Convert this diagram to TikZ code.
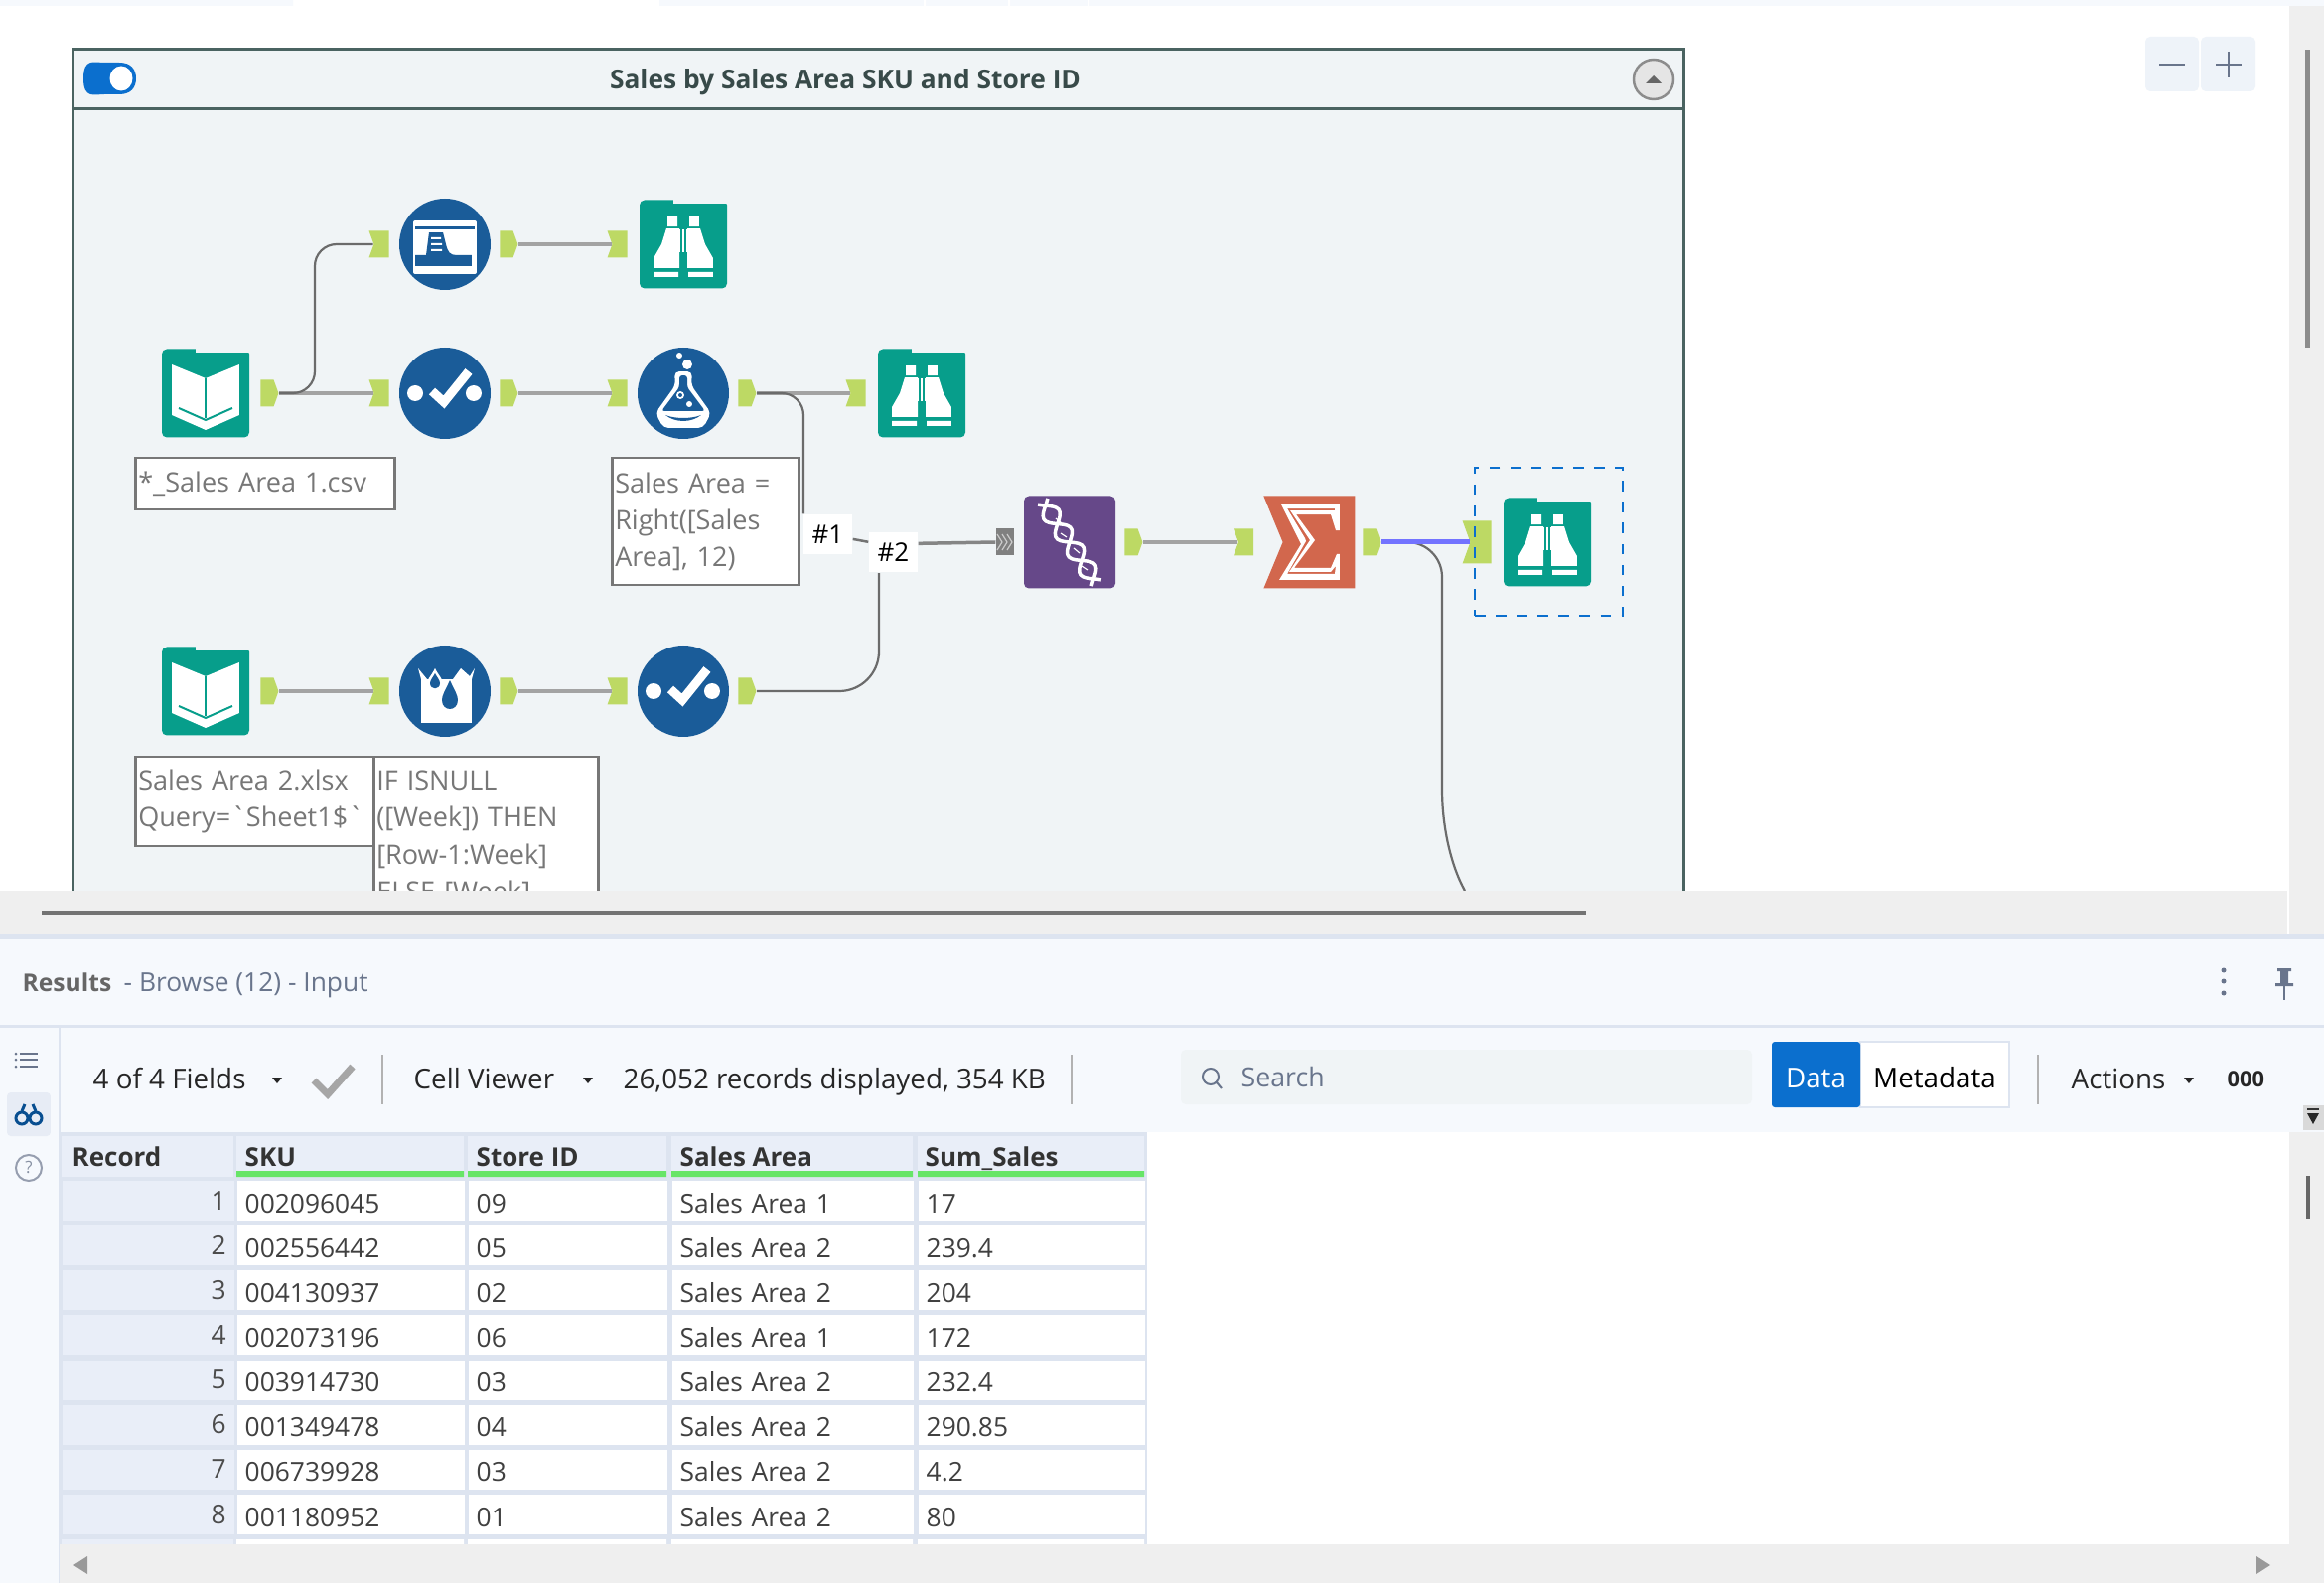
\documentclass[tikz,border=0pt]{standalone}
\usepackage{fontspec}
\setmainfont[Ligatures=TeXOff]{Open Sans}
\usepackage{tikz}
\usetikzlibrary{shapes.geometric, shapes.symbols, arrows.meta, calc}
\definecolor{canvas}{HTML}{F0F4F6}
\definecolor{frameline}{HTML}{4A6361}
\definecolor{toolblue}{HTML}{1A5C99}
\definecolor{toolteal}{HTML}{079E8B}
\definecolor{toolpurple}{HTML}{664889}
\definecolor{toolorange}{HTML}{D2674D}
\definecolor{portgreen}{HTML}{BDD964}
\definecolor{panelbg}{HTML}{F6F9FD}
\definecolor{gridline}{HTML}{DDE4F0}
\definecolor{headcell}{HTML}{E9EEF8}
\definecolor{bandgray}{HTML}{EFEFEF}
\definecolor{notegray}{HTML}{777777}
\definecolor{railblue}{HTML}{69758C}
\definecolor{databtn}{HTML}{0B6FCE}
\tikzstyle{bluetool} = [circle, fill=toolblue, minimum size=0.92cm, inner sep=0pt]
\tikzstyle{tealtool} = [rectangle, rounded corners=0.05cm, fill=toolteal, minimum width=0.88cm, minimum height=0.89cm, inner sep=0pt]
\tikzstyle{outport} = [signal, signal to=east, signal from=nowhere, signal pointer angle=140, fill=portgreen, minimum width=0.18cm, minimum height=0.27cm, inner sep=0pt]
\tikzstyle{inport} = [signal, signal from=west, signal to=nowhere, signal pointer angle=140, fill=portgreen, minimum width=0.20cm, minimum height=0.27cm, inner sep=0pt]
\tikzstyle{note} = [rectangle, draw=notegray, line width=0.025cm, fill=white, text=notegray, anchor=north west, align=left, inner xsep=0.03cm, inner ysep=0pt, font=\fontsize{7.7}{10.6}\selectfont]
\tikzstyle{wirelabel} = [rectangle, fill=white, text=black, minimum width=0.49cm, minimum height=0.40cm, inner sep=0pt, font=\fontsize{7.4}{9}\selectfont]
\tikzstyle{wire} = [draw=black!36, line width=0.04cm]
\tikzstyle{bendwire} = [draw=black!58, line width=0.022cm, rounded corners=0.22cm]
\tikzstyle{cell} = [rectangle, fill=white, text=black!75, anchor=west, align=left, minimum height=0.40cm, inner xsep=0.08cm, inner ysep=0pt, text height=0.26cm, text depth=0.02cm, font=\fontsize{7.5}{8}\selectfont]
\tikzstyle{reccell} = [cell, fill=headcell, align=right, text=black!70, text height=0.23cm, text depth=0.05cm]
\tikzstyle{headtext} = [anchor=base west, inner sep=0pt, text=black!80, font=\fontsize{7.4}{8}\selectfont\bfseries]
\tikzstyle{bartext} = [anchor=base west, inner sep=0pt, text=black!85, font=\fontsize{7.9}{8}\selectfont]
\tikzstyle{btntext} = [rectangle, minimum height=0.66cm, inner sep=0pt, text height=0.26cm, text depth=0cm, font=\fontsize{7.9}{8}\selectfont]
\newcommand{\foldertop}{\fill[canvas] (-10,-45.5) rectangle (45,-41);}
\newcommand{\bookicon}[1]{\begin{scope}[shift={(#1)}, x=0.01cm, y=-0.01cm]
\foldertop
\fill[white] (-34,-29) -- (0,-15) -- (34,-29) -- (34,22) -- (0,37) -- (-34,22) -- cycle;
\draw[toolteal, line width=0.015cm] (0,-15) -- (0,25);
\draw[toolteal, line width=0.02cm] (-27,15) -- (0,27) -- (27,15);
\end{scope}}
\newcommand{\browseicon}[1]{\begin{scope}[shift={(#1)}, x=0.01cm, y=-0.01cm]
\foldertop
\fill[white] (-16,-28) rectangle (-6,-18) (6,-28) rectangle (16,-18);
\fill[white] (-17,-16) -- (-4,-16) -- (-4,24) -- (-30,24) -- (-30,14) -- (-22,0) -- cycle;
\fill[white] (17,-16) -- (4,-16) -- (4,24) -- (30,24) -- (30,14) -- (22,0) -- cycle;
\fill[white] (-4,-15) rectangle (4,8);
\draw[toolteal, line width=0.012cm] (-2,-15) -- (-2,8) (2,-15) -- (2,8);
\fill[white] (-30,28) rectangle (-5,33) (5,28) rectangle (30,33);
\end{scope}}
\newcommand{\selecticon}[1]{\begin{scope}[shift={(#1)}, x=0.01cm, y=-0.01cm]
\fill[white] (-30,0) circle (8) (29,0) circle (8);
\draw[white, line width=0.09cm] (-13,-2) -- (-1,9) -- (24,-22);
\end{scope}}
\newcommand{\fieldicon}[1]{\begin{scope}[shift={(#1)}, x=0.01cm, y=-0.01cm]
\fill[white, rounded corners=0.02cm] (-32,-24) rectangle (32,30);
\fill[toolblue] (-30,-18) rectangle (30,-15);
\fill[toolblue] (-30,11) -- (-19,11) -- (-16,-12) -- (-2,-12) -- (1,0) .. controls (3,8) and (5,11) .. (12,11) -- (27,11) -- (27,22) -- (-30,22) -- cycle;
\fill[white] (-14,-7) rectangle (-4,-5) (-14,-1) rectangle (-3,1) (-14,5) rectangle (-3,7);
\end{scope}}
\newcommand{\flaskicon}[1]{\begin{scope}[shift={(#1)}, x=0.01cm, y=-0.01cm]
\fill[white] (-4,-38) circle (3) (4,-29) circle (5);
\fill[white, rounded corners=0.05cm] (-9,-22) -- (9,-22) -- (8,-8) -- (28,20) -- (20,35) -- (-20,35) -- (-28,20) -- (-8,-8) -- cycle;
\fill[toolblue, rounded corners=0.03cm] (-4,-18) -- (4,-18) -- (4,-6) -- (22,18) -- (-22,18) -- (-4,-6) -- cycle;
\fill[white] (-3,2) circle (4) (6,11) circle (3);
\fill[toolblue] (-3,2) circle (2);
\fill[toolblue] (-18,22) .. controls (-8,30) and (8,30) .. (18,22) .. controls (8,26) and (-8,26) .. cycle;
\end{scope}}
\newcommand{\fillicon}[1]{\begin{scope}[shift={(#1)}, x=0.01cm, y=-0.01cm]
\fill[white] (-27,-23) -- (-24,-12) -- (-24,32) -- (27,32) -- (27,-12) -- (30,-23) -- (25,-15) -- (16,-23) -- (8,-12) -- (-18,-12) -- cycle;
\fill[toolblue] (5,-11) .. controls (0,0) and (-3,4) .. (-3,9) .. controls (-3,21) and (13,21) .. (13,9) .. controls (13,4) and (10,0) .. cycle;
\fill[white] (-10,-23) .. controls (-14,-15) and (-18,-12) .. (-18,-8) .. controls (-18,2) and (-2,2) .. (-2,-8) .. controls (-2,-12) and (-6,-15) .. cycle;
\fill[toolblue] (-10,-18) .. controls (-12,-14) and (-15,-11) .. (-15,-8) .. controls (-15,-1) and (-5,-1) .. (-5,-8) .. controls (-5,-11) and (-8,-14) .. cycle;
\end{scope}}
\newcommand{\helixicon}[1]{\begin{scope}[shift={(#1)}, x=0.01cm, y=-0.01cm]
\draw[white, line width=0.035cm, smooth, domain=-1:1, samples=33] plot ({\x*27+9*sin(\x*400)*0.84}, {\x*41-9*sin(\x*400)*0.54});
\draw[white, line width=0.035cm, smooth, domain=-1:1, samples=33] plot ({\x*27-9*sin(\x*400)*0.84}, {\x*41+9*sin(\x*400)*0.54});
\draw[white, line width=0.012cm] (-14,-24) -- (-8,-19) (-9,-9) -- (-3,-5) (4,6) -- (10,11) (12,24) -- (18,28);
\end{scope}}
\newcommand{\sigmaicon}[1]{\begin{scope}[shift={(#1)}, x=0.01cm, y=-0.01cm]
\fill[white, even odd rule] (-28,-38) -- (31,-38) -- (31,-12) -- (27,-12) -- (22,-28) -- (-13,-28) -- (6,-2) -- (-15,26) -- (22,26) -- (28,12) -- (31,12) -- (31,38) -- (-30,38) -- (-8,2) -- cycle
 (-22,-34) -- (-4,-4) -- (-3,-1) -- (-22,32) -- (26,32) -- (27,24) -- (22,30) -- (-20,30) -- (1,-2) -- (-19,-32) -- (26,-32) -- (27,-24) -- (26,-34) -- cycle;
\end{scope}}
\begin{document}
\begin{tikzpicture}[node distance=2.4cm]
\useasboundingbox (0,0) rectangle (23.4,-15.94);
\fill[white] (0,0) rectangle (23.4,-15.94);
\fill[panelbg] (0,0) rectangle (2.95,-0.06) (6.64,0) rectangle (23.4,-0.06);
\fill[white] (9.3,0) rectangle (9.32,-0.06) (10.15,0) rectangle (10.17,-0.06) (10.95,0) rectangle (10.97,-0.06);
\fill[bandgray] (23.05,-0.06) rectangle (23.4,-9.4);
\fill[black!45] (23.21,-0.5) rectangle (23.26,-3.5);

\node (zoomout) [rectangle, rounded corners=0.05cm, fill=panelbg!70!gridline, minimum width=0.54cm, minimum height=0.55cm] at (21.87,-0.645) {};
\node (zoomin) [rectangle, rounded corners=0.05cm, fill=panelbg!70!gridline, minimum width=0.55cm, minimum height=0.55cm] at (22.435,-0.645) {};
\draw[railblue, line width=0.025cm] (21.74,-0.65) -- (22.0,-0.65) (22.31,-0.65) -- (22.57,-0.65) (22.44,-0.52) -- (22.44,-0.78);

\fill[canvas, draw=frameline, line width=0.03cm] (0.73,-0.5) rectangle (16.95,-9.3);
\draw[frameline, line width=0.03cm] (0.73,-1.1) -- (16.95,-1.1);
\node (title) [font=\fontsize{7.5}{9}\selectfont\bfseries, text=frameline!75!black] at (8.51,-0.83) {Sales by Sales Area SKU and Store ID};
\fill[databtn] (0.84,-0.79) .. controls (0.84,-0.58) and (0.95,-0.63) .. (1.05,-0.63) -- (1.2,-0.63) .. controls (1.32,-0.63) and (1.37,-0.7) .. (1.37,-0.79) .. controls (1.37,-0.88) and (1.32,-0.95) .. (1.2,-0.95) -- (1.05,-0.95) .. controls (0.95,-0.95) and (0.84,-1) .. (0.84,-0.79) -- cycle;
\fill[white] (1.22,-0.79) ellipse (0.115 and 0.125);
\node (collapse) [circle, draw=black!45, fill=black!10, line width=0.025cm, minimum size=0.40cm] at (16.65,-0.80) {};
\fill[black!60] (16.57,-0.84) -- (16.65,-0.76) -- (16.73,-0.84) -- cycle;

\node (bk1) [tealtool] at (2.07,-3.96) {};
\node (sel1) [bluetool, right of=bk1, xshift=0.01cm] {};
\node (fld) [bluetool, above of=sel1, yshift=-0.9cm] {};
\node (brw1) [tealtool, right of=fld] {};
\node (frm) [bluetool, right of=sel1] {};
\node (brw2) [tealtool, right of=frm] {};
\node (bk2) [tealtool, below of=bk1, yshift=-0.6cm] {};
\node (fil) [bluetool, right of=bk2, xshift=0.01cm] {};
\node (sel2) [bluetool, right of=fil] {};
\node (dna) [rectangle, rounded corners=0.05cm, fill=toolpurple, minimum width=0.92cm, minimum height=0.93cm, right of=brw2, xshift=-0.91cm, yshift=-1.5cm] {};
\node (sum) [signal, signal from=west, signal to=nowhere, signal pointer angle=135, fill=toolorange, minimum width=0.92cm, minimum height=0.93cm, inner sep=0pt, right of=dna, xshift=0.11cm] {};
\node (brw3) [tealtool, right of=sum, xshift=-0.10cm] {};

\node (bk1out) [outport, right of=bk1, xshift=-1.78cm] {};
\node (bk2out) [outport, right of=bk2, xshift=-1.78cm] {};
\node (fldin) [inport, left of=fld, xshift=1.76cm] {};
\node (fldout) [outport, right of=fld, xshift=-1.78cm] {};
\node (brw1in) [inport, left of=brw1, xshift=1.76cm] {};
\node (sel1in) [inport, left of=sel1, xshift=1.76cm] {};
\node (sel1out) [outport, right of=sel1, xshift=-1.78cm] {};
\node (frmin) [inport, left of=frm, xshift=1.76cm] {};
\node (frmout) [outport, right of=frm, xshift=-1.78cm] {};
\node (brw2in) [inport, left of=brw2, xshift=1.76cm] {};
\node (filin) [inport, left of=fil, xshift=1.76cm] {};
\node (filout) [outport, right of=fil, xshift=-1.78cm] {};
\node (sel2in) [inport, left of=sel2, xshift=1.76cm] {};
\node (sel2out) [outport, right of=sel2, xshift=-1.78cm] {};
\node (dnain) [rectangle, fill=black!50, minimum width=0.18cm, minimum height=0.27cm, inner sep=0pt, left of=dna, xshift=1.75cm] {};
\node (dnaout) [outport, right of=dna, xshift=-1.78cm] {};
\node (sumin) [inport, left of=sum, xshift=1.665cm] {};
\node (sumout) [outport, right of=sum, xshift=-1.89cm] {};
\node (brw3in) [inport, minimum width=0.29cm, minimum height=0.43cm, left of=brw3, xshift=1.73cm] {};
\node (pick) [rectangle, draw=databtn, dashed, line width=0.02cm, minimum width=1.49cm, minimum height=1.49cm, left of=brw3, xshift=2.4cm+0.015cm, yshift=0.005cm] {};

\bookicon{bk1}
\bookicon{bk2}
\browseicon{brw1}
\browseicon{brw2}
\browseicon{brw3}
\selecticon{sel1}
\selecticon{sel2}
\fieldicon{fld}
\flaskicon{frm}
\fillicon{fil}
\helixicon{dna}
\sigmaicon{$(sum)+(-0.1,0)$}
\foreach \p in {-0.05,0,0.05} \draw[white!80!black, line width=0.012cm] ($(dnain.center)+(\p-0.03,0.08)$) -- ($(dnain.center)+(\p+0.02,0)$) -- ($(dnain.center)+(\p-0.03,-0.08)$);

\node (nbk1) [note, minimum width=2.61cm, minimum height=0.52cm, text width=2.55cm] at (1.35,-4.60) {*\_Sales Area 1.csv};
\node (nfrm) [note, minimum width=1.88cm, minimum height=1.28cm, text width=1.82cm] at (6.15,-4.60) {Sales Area =\\Right([Sales\\Area], 12)};
\node (nbk2) [note, minimum width=2.40cm, minimum height=0.90cm, text width=2.34cm] at (1.35,-7.61) {Sales Area 2.xlsx\\Query=`Sheet1\$`};
\node (nfil) [note, minimum width=2.26cm, minimum height=1.63cm, text width=2.20cm] at (3.75,-7.61) {IF ISNULL\\([Week]) THEN\\{[Row-1:Week]}\\ELSE [Week]};

\node (lab1) [wirelabel] at (8.335,-5.38) {\#1};
\node (lab2) [wirelabel] at (8.995,-5.565) {\#2};
\coordinate (bendA) at (3.17,-3.0);
\coordinate (bendB) at (8.09,-4.6);
\coordinate (bendC) at (8.85,-6.2);
\coordinate (bendD) at (14.52,-7.6);
\coordinate (lowend) at (14.75,-8.97);

\draw[wire] (bk1out.east) -- (sel1in.west);
\draw[wire] (sel1out.east) -- (frmin.west);
\draw[wire] (fldout.east) -- (brw1in.west);
\draw[wire] (frmout.east) -- (brw2in.west);
\draw[wire] (bk2out.east) -- (filin.west);
\draw[wire] (filout.east) -- (sel2in.west);
\draw[wire] (dnaout.east) -- (sumin.west);
\draw[bendwire] (bk1out.east) -| (bendA) |- (fldin.west);
\draw[bendwire] (frmout.east) -| (bendB) -- (lab1.north -| bendB);
\draw[bendwire, rounded corners=0.4cm] (sel2out.east) -| (bendC) -- (lab2.south -| bendC);
\draw[wire, line width=0.025cm, draw=black!55] (lab1.-11) -- (lab2.157);
\draw[wire, draw=black!48, line width=0.035cm] (lab2.20) -- (dnain.west);
\draw[draw=black!58, line width=0.022cm, rounded corners=0.35cm] (sumout.east) -| (bendD) .. controls (14.52,-8.3) and (14.6,-8.7) .. (lowend);
\draw[draw=blue!55!white, line width=0.05cm] (sumout.east) -- (brw3in.west);

\fill[bandgray] (0,-8.97) rectangle (23.03,-9.40);
\draw[black!55, line width=0.04cm] (0.42,-9.19) -- (15.97,-9.19);

\fill[panelbg] (0,-9.40) rectangle (23.4,-15.94);
\fill[gridline] (0,-9.40) rectangle (23.4,-9.46);
\draw[gridline, line width=0.03cm] (0,-10.33) -- (23.4,-10.33);
\draw[gridline, line width=0.02cm] (0.6,-10.33) -- (0.6,-15.94);
\node (resttl) [bartext, text=black!60, font=\fontsize{7}{8}\selectfont\bfseries] at (0.22,-9.98) {Results};
\node (resttl2) [bartext, text=railblue, font=\fontsize{7.5}{8}\selectfont] at (1.24,-9.98) {- Browse (12) - Input};
\fill[railblue] (22.39,-9.77) circle (0.025) (22.39,-9.88) circle (0.025) (22.39,-10.0) circle (0.025);
\fill[railblue] (22.93,-9.75) rectangle (23.07,-9.78) (22.96,-9.78) rectangle (23.04,-9.90) (22.91,-9.90) rectangle (23.09,-9.93);
\draw[railblue, line width=0.02cm] (23,-9.9) -- (23,-10.07);

\draw[railblue, line width=0.02cm] (0.2,-10.61) -- (0.38,-10.61) (0.2,-10.67) -- (0.38,-10.67) (0.2,-10.74) -- (0.38,-10.74);
\fill[railblue] (0.16,-10.61) circle (0.015) (0.16,-10.67) circle (0.015) (0.16,-10.74) circle (0.015);
\fill[gridline!70!white, rounded corners=0.04cm] (0.07,-11.0) rectangle (0.51,-11.44);
\draw[databtn!70!black, line width=0.03cm] (0.22,-11.26) circle (0.06) (0.36,-11.26) circle (0.06);
\draw[databtn!70!black, line width=0.03cm] (0.22,-11.19) -- (0.25,-11.12) (0.36,-11.19) -- (0.33,-11.12) (0.27,-11.24) -- (0.31,-11.24);
\node (helpq) [circle, draw=railblue!70, line width=0.02cm, inner sep=0pt, minimum size=0.26cm, text=railblue!80, font=\fontsize{4.8}{5}\selectfont] at (0.29,-11.76) {?};

\node (flds) [bartext] at (0.93,-10.96) {4 of 4 Fields};
\fill[black!85] (2.74,-10.85) -- (2.84,-10.85) -- (2.79,-10.91) -- cycle;
\draw[black!35, line width=0.07cm] (3.16,-10.88) -- (3.30,-11.02) -- (3.55,-10.74);
\draw[black!30, line width=0.015cm] (3.85,-10.62) -- (3.85,-11.12);
\node (cellv) [bartext] at (4.16,-10.96) {Cell Viewer};
\fill[black!85] (5.87,-10.85) -- (5.97,-10.85) -- (5.92,-10.91) -- cycle;
\node (recs) [bartext] at (6.27,-10.96) {26,052 records displayed, 354 KB};
\draw[black!30, line width=0.015cm] (10.79,-10.62) -- (10.79,-11.12);
\fill[canvas, rounded corners=0.05cm] (11.89,-10.57) rectangle (17.64,-11.12);
\draw[railblue, line width=0.02cm] (12.19,-10.84) circle (0.08) (12.25,-10.90) -- (12.30,-10.96);
\node (srch) [bartext, text=railblue, font=\fontsize{7.6}{8}\selectfont] at (12.49,-10.95) {Search};
\node (meta) [btntext, fill=white, draw=gridline, line width=0.02cm, minimum width=1.50cm] at (19.48,-10.82) {Metadata};
\node (data) [btntext, rounded corners=0.03cm, fill=databtn, text=white, minimum width=0.89cm] at (18.285,-10.82) {Data};
\draw[black!30, line width=0.015cm] (20.52,-10.62) -- (20.52,-11.12);
\node (acts) [bartext] at (20.85,-10.96) {Actions};
\fill[black!85] (21.99,-10.85) -- (22.09,-10.85) -- (22.04,-10.91) -- cycle;
\node (ooo) [bartext, font=\fontsize{6.2}{8}\selectfont\bfseries] at (22.42,-10.94) {000};

\fill[white] (0.6,-11.40) rectangle (23.05,-15.55);
\fill[bandgray] (23.05,-11.40) rectangle (23.4,-15.94);
\fill[black!15] (23.19,-11.13) rectangle (23.4,-11.38);
\draw[black!80, line width=0.015cm] (23.23,-11.17) -- (23.35,-11.17);
\fill[black!85] (23.23,-11.21) -- (23.35,-11.21) -- (23.29,-11.32) -- cycle;
\fill[black!60] (23.22,-11.84) rectangle (23.26,-12.27);
\fill[gridline] (0.6,-11.40) rectangle (11.55,-15.55);

\fill[headcell] (0.62,-11.44) rectangle (2.35,-11.85);
\fill[headcell] (2.38,-11.44) rectangle (4.67,-11.79);
\fill[headcell] (4.71,-11.44) rectangle (6.71,-11.79);
\fill[headcell] (6.76,-11.44) rectangle (9.19,-11.79);
\fill[headcell] (9.24,-11.44) rectangle (11.52,-11.79);
\fill[green!55!white!90!black] (2.38,-11.79) rectangle (4.67,-11.85) (4.71,-11.79) rectangle (6.71,-11.85) (6.76,-11.79) rectangle (9.19,-11.85) (9.24,-11.79) rectangle (11.52,-11.85);
\node (hrec) [headtext] at (0.72,-11.74) {Record};
\node (hsku) [headtext] at (2.46,-11.74) {SKU};
\node (hsto) [headtext] at (4.79,-11.74) {Store ID};
\node (hare) [headtext] at (6.84,-11.74) {Sales Area};
\node (hsum) [headtext] at (9.31,-11.74) {Sum\_Sales};

\foreach \n/\sku/\st/\ar/\val [evaluate=\n as \yy using -12.09-(\n-1)*0.4515] in {1/002096045/09/1/17, 2/002556442/05/2/239.4, 3/004130937/02/2/204, 4/002073196/06/1/172, 5/003914730/03/2/232.4, 6/001349478/04/2/290.85, 7/006739928/03/2/4.2, 8/001180952/01/2/80} {
\node (rec\n) [reccell, text width=1.57cm] at (0.62,\yy) {\n};
\node (sku\n) [cell, text width=2.13cm] at (2.38,\yy) {\sku};
\node (sto\n) [cell, text width=1.84cm] at (4.71,\yy) {\st};
\node (are\n) [cell, text width=2.27cm] at (6.76,\yy) {Sales Area \ar};
\node (val\n) [cell, text width=2.12cm] at (9.24,\yy) {\val};
}
\fill[headcell] (0.62,-15.5) rectangle (2.35,-15.55);
\fill[white] (2.38,-15.5) rectangle (4.67,-15.55) (4.71,-15.5) rectangle (6.71,-15.55) (6.76,-15.5) rectangle (9.19,-15.55) (9.24,-15.5) rectangle (11.52,-15.55);

\fill[bandgray] (0.6,-15.55) rectangle (23.05,-15.94);
\fill[black!40] (0.74,-15.76) -- (0.88,-15.67) -- (0.88,-15.85) -- cycle;
\fill[black!40] (22.86,-15.76) -- (22.72,-15.67) -- (22.72,-15.85) -- cycle;
\end{tikzpicture}
\end{document}
